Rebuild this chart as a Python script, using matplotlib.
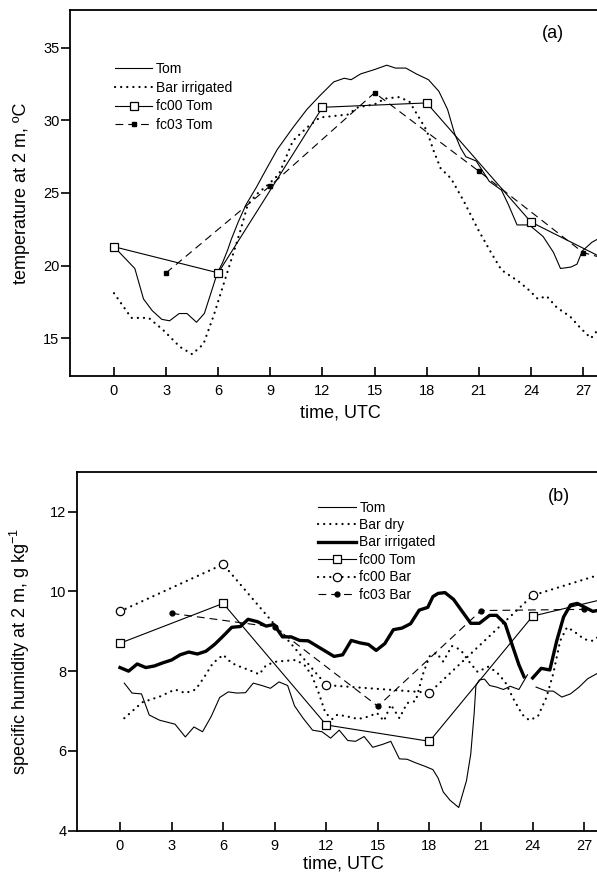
import numpy as np
import matplotlib
matplotlib.use('Agg')
import matplotlib.pyplot as plt

plt.rcParams['font.family'] = ['Liberation Sans', 'DejaVu Sans']
plt.rcParams['mathtext.fontset'] = 'custom'
plt.rcParams['mathtext.rm'] = 'Liberation Sans'

nan = np.nan

# ---------------- (a) temperature at 2 m ----------------
tom_a_t = [0, 1.2, 1.7, 2.2, 2.75, 3.2, 3.75, 4.2, 4.75, 5.2, 5.55, 5.95, 6.25, 6.55, 6.75,
           7.15, 7.6, 8.2, 8.7, 9.4, 10.3, 11.1, 11.85, 12.65, 13.25, 13.65, 14.2, 15.0, 15.7,
           16.2, 16.8, 17.4, 18.1, 18.7, 19.2, 19.6, 19.95, 20.25, 20.85, 21.6, 22.3, 22.7,
           23.2, 23.9, 24.7, 25.3, 25.7, 26.3, 26.65, 26.95, 27.5, 27.8, 28.3]
tom_a_T = [21.3, 19.8, 17.7, 16.9, 16.3, 16.2, 16.7, 16.7, 16.1, 16.7, 18.0, 19.5, 20.2, 21.1, 21.8,
           23.0, 24.2, 25.4, 26.5, 28.0, 29.5, 30.75, 31.7, 32.65, 32.9, 32.8, 33.2, 33.5, 33.8,
           33.6, 33.6, 33.2, 32.8, 32.0, 30.75, 29.1, 28.1, 27.5, 27.2, 25.8, 25.2, 24.2,
           22.8, 22.8, 22.0, 20.9, 19.8, 19.9, 20.1, 21.0, 21.6, 21.8, 22.0]

bar_irr_a_t = [0, 1.0, 2.0, 2.8, 3.8, 4.5, 5.15, 5.75, 6.25, 6.75, 7.25, 7.7, 8.2, 8.9, 9.5,
               10.3, 11.1, 11.85, 13.45, 14.05, 15.0, 15.6, 16.4, 17.0, 17.4, 18.0, 18.4, 18.8,
               19.4, 20.15, 20.95, 21.7, 22.3, 23.3, 23.9, 24.4, 24.9, 25.5, 26.25, 26.85,
               27.45, 27.8, 28.3]
bar_irr_a_T = [18.1, 16.4, 16.4, 15.6, 14.4, 13.9, 14.6, 16.6, 18.5, 20.4, 22.3, 24.2, 24.9, 25.6, 26.3,
               28.6, 29.5, 30.2, 30.4, 30.9, 31.1, 31.5, 31.6, 31.3, 30.5, 29.3, 27.9, 26.7,
               26.0, 24.4, 22.5, 20.9, 19.7, 18.9, 18.3, 17.7, 17.9, 17.1, 16.5, 15.7,
               15.0, 15.5, 15.8]

fc00_tom_a_t = [0, 6, 12, 18, 24, 30]
fc00_tom_a_T = [21.3, 19.5, 30.9, 31.2, 23.0, 19.4]

fc03_tom_a_t = [3, 9, 15, 21, 27, 30]
fc03_tom_a_T = [19.5, 25.5, 31.9, 26.5, 20.9, 19.9]

# ---------------- (b) specific humidity at 2 m ----------------
tom_b_t = [0.25, 0.7, 1.25, 1.7, 2.3, 3.2, 3.8, 4.3, 4.8, 5.3, 5.8, 6.3, 6.8, 7.3, 7.75, 8.25,
           8.75, 9.25, 9.75, 10.15, 10.65, 11.2, 11.75, 12.25, 12.75, 13.25, 13.7, 14.2, 14.7,
           15.25, 15.75, 16.25, 16.7, 17.2, 17.7, 18.2, 18.5, 18.8, 19.2, 19.7, 20.15, 20.4,
           20.6, 20.7, 20.9, 21.2, 21.5, 21.9, 22.3, 22.7, 23.2, 23.7, 23.9, 24.2, 24.8, 25.2,
           25.7, 26.2, 26.7, 27.2, 27.75, 28.3]
tom_b_q = [7.7, 7.45, 7.43, 6.9, 6.77, 6.67, 6.35, 6.6, 6.48, 6.86, 7.34, 7.48, 7.45, 7.46, 7.7, 7.64,
           7.57, 7.73, 7.64, 7.13, 6.82, 6.52, 6.48, 6.32, 6.52, 6.26, 6.24, 6.36, 6.09,
           6.16, 6.24, 5.8, 5.79, 5.7, 5.62, 5.53, 5.32, 4.97, 4.76, 4.58, 5.25, 5.92,
           6.95, 7.64, 7.78, 7.8, 7.64, 7.6, 7.54, 7.62, 7.54, 7.91, nan, 7.6, 7.5, 7.5,
           7.35, 7.43, 7.6, 7.81, 7.94, 8.05]

bar_dry_b_t = [0.25, 1.3, 2.3, 3.2, 3.8, 4.4, 4.9, 5.4, 6.0, 6.5, 7.0, 7.5, 8.1, 8.5, 9.1, 9.65,
               10.25, 10.75, 11.15, 11.55, 11.95, 12.35, 12.65, 13.25, 13.85, 14.45, 14.95, 15.35,
               15.75, 16.25, 16.7, 17.2, 17.6, 18.0, 18.4, 18.8, 19.3, 19.8, 20.3, 20.8, 21.4,
               21.9, 22.4, 22.9, 23.4, 23.8, 24.3, 24.8, 25.2, 25.6, 26.0, 26.4, 27.0, 27.5,
               27.75, 28.3]
bar_dry_b_q = [6.82, 7.22, 7.36, 7.54, 7.45, 7.54, 7.85, 8.2, 8.41, 8.2, 8.11, 8.03, 7.92, 8.15, 8.24, 8.26,
               8.28, 8.14, 7.9, 7.46, 6.95, 6.8, 6.91, 6.86, 6.8, 6.86, 6.95, 6.75,
               7.16, 6.82, 7.2, 7.25, 7.9, 8.37, 8.46, 8.24, 8.63, 8.54, 8.24, 7.98, 8.11,
               7.98, 7.73, 7.29, 6.91, 6.77, 6.86, 7.34, 7.94, 8.76, 9.1, 9.0, 8.8, 8.76,
               8.84, 8.9]

bar_irr_b_t = [0, 0.5, 1.0, 1.5, 2.0, 2.5, 3.0, 3.5, 4.0, 4.5, 5.0, 5.5, 6.0, 6.5, 7.0, 7.45, 8.0,
               8.5, 8.95, 9.45, 9.95, 10.45, 10.95, 11.45, 11.95, 12.45, 12.95, 13.45, 13.95,
               14.45, 14.9, 15.4, 15.9, 16.4, 16.9, 17.4, 17.9, 18.2, 18.5, 18.9, 19.4, 19.9,
               20.4, 20.9, 21.5, 21.9, 22.4, 22.8, 23.2, 23.5, 23.75, 24.0, 24.5, 25.0, 25.4,
               25.8, 26.2, 26.6, 27.0, 27.5, 27.75, 28.3]
bar_irr_b_q = [8.09, 8.0, 8.18, 8.09, 8.13, 8.21, 8.28, 8.41, 8.48, 8.43, 8.5, 8.67, 8.88, 9.1, 9.12, 9.3, 9.24,
               9.13, 9.17, 8.86, 8.86, 8.77, 8.76, 8.63, 8.5, 8.37, 8.41, 8.77, 8.71,
               8.67, 8.52, 8.69, 9.04, 9.08, 9.19, 9.53, 9.6, 9.87, 9.95, 9.97, 9.8, 9.5,
               9.2, 9.2, 9.4, 9.4, 9.19, 8.67, 8.16, 7.86, nan, 7.83, 8.07, 8.03, 8.76,
               9.36, 9.66, 9.7, 9.61, 9.5, 9.52, 9.45]

fc00_tom_b_t = [0, 6, 12, 18, 24, 30]
fc00_tom_b_q = [8.7, 9.7, 6.65, 6.24, 9.38, 10.0]

fc00_bar_b_t = [0, 6, 12, 18, 24, 30]
fc00_bar_b_q = [9.5, 10.68, 7.65, 7.46, 9.9, 10.7]

fc03_bar_b_t = [3, 9, 15, 21, 27]
fc03_bar_b_q = [9.45, 9.1, 7.12, 9.52, 9.55]

xticks = [0, 3, 6, 9, 12, 15, 18, 21, 24, 27]

# dotted style: small round dots about 6 px apart
dots = dict(lw=1.6, linestyle=(0, (0.05, 2.7)), dash_capstyle='round')
dashes = dict(lw=0.8, linestyle=(0, (7, 4.5)))


def style_axes(ax):
    ax.spines['right'].set_visible(False)
    for s in ['left', 'bottom', 'top']:
        ax.spines[s].set_linewidth(1.3)
    ax.set_xticks(xticks)
    ax.tick_params(axis='x', direction='in', length=6.5, width=1.2, pad=6, labelsize=10.5)
    ax.tick_params(axis='y', direction='out', length=6.5, width=1.2, pad=1, labelsize=10.5)


fig = plt.figure(figsize=(5.97, 8.76), dpi=100)

# panel (a)
ax1 = fig.add_axes([0.1173, 0.5708, 0.9045, 0.4178])
ax1.plot(tom_a_t, tom_a_T, '-', color='k', lw=0.8, label='Tom')
ax1.plot(bar_irr_a_t, bar_irr_a_T, color='k', label='Bar irrigated', **dots)
ax1.plot(fc00_tom_a_t, fc00_tom_a_T, '-', color='k', lw=0.8, marker='s', ms=6,
         mfc='white', mec='k', mew=0.9, label='fc00 Tom')
ax1.plot(fc03_tom_a_t, fc03_tom_a_T, color='k', marker='s', ms=3.2, mfc='k', mec='k',
         label='fc03 Tom', **dashes)
ax1.set_xlim(-2.53, 28.55)
ax1.set_ylim(12.4, 37.6)
ax1.set_yticks([15, 20, 25, 30, 35])
style_axes(ax1)
ax1.set_xlabel('time, UTC', fontsize=13)
ax1.xaxis.set_label_coords(0.5, -0.077)
ax1.set_ylabel('temperature at 2 m, ºC', fontsize=13)
ax1.yaxis.set_label_coords(-0.075, 0.5)
ax1.text(0.895, 0.935, '(a)', transform=ax1.transAxes, fontsize=13, ha='center', va='center')
ax1.legend(loc='upper left', bbox_to_anchor=(0.083, 0.857), frameon=False, fontsize=10,
           handlelength=2.7, handletextpad=0.25, labelspacing=0.33, borderpad=0, borderaxespad=0)

# panel (b)
ax2 = fig.add_axes([0.129, 0.0518, 0.8928, 0.4096])
ax2.plot(tom_b_t, tom_b_q, '-', color='k', lw=0.8, label='Tom')
ax2.plot(bar_dry_b_t, bar_dry_b_q, color='k', label='Bar dry', **dots)
ax2.plot(bar_irr_b_t, bar_irr_b_q, '-', color='k', lw=2.4, label='Bar irrigated')
ax2.plot(fc00_tom_b_t, fc00_tom_b_q, '-', color='k', lw=0.8, marker='s', ms=6,
         mfc='white', mec='k', mew=0.9, label='fc00 Tom')
ax2.plot(fc00_bar_b_t, fc00_bar_b_q, color='k', marker='o', ms=6, mfc='white', mec='k',
         mew=0.9, label='fc00 Bar', **dots)
ax2.plot(fc03_bar_b_t, fc03_bar_b_q, color='k', marker='o', ms=3.5, mfc='k', mec='k',
         label='fc03 Bar', **dashes)
ax2.set_xlim(-2.5, 28.5)
ax2.set_ylim(4, 13)
ax2.set_yticks([4, 6, 8, 10, 12])
style_axes(ax2)
ax2.set_xlabel('time, UTC', fontsize=13)
ax2.xaxis.set_label_coords(0.5, -0.068)
ax2.set_ylabel(r'specific humidity at 2 m, g kg$^{\mathregular{-1}}$', fontsize=13)
ax2.yaxis.set_label_coords(-0.085, 0.5)
ax2.text(0.905, 0.93, '(b)', transform=ax2.transAxes, fontsize=13, ha='center', va='center')
ax2.legend(loc='upper left', bbox_to_anchor=(0.453, 0.92), frameon=False, fontsize=10,
           handlelength=2.7, handletextpad=0.25, labelspacing=0.25, borderpad=0, borderaxespad=0)

fig.savefig('out.png', dpi=100)
